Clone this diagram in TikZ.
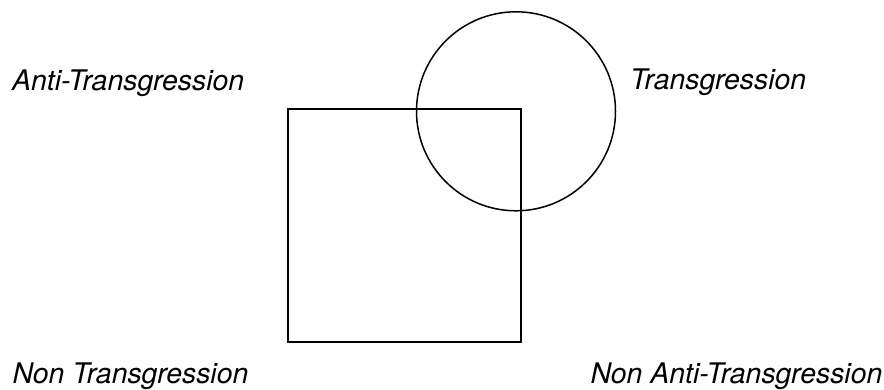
\documentclass[tikz,border=0pt]{standalone}
\usepackage{fontspec}
\setmainfont{TeX Gyre Heros}
\begin{document}
\begin{tikzpicture}[x=1pt,y=-1pt,
  shape line/.style={draw=black, line width=1.5pt, inner sep=0pt, outer sep=0pt},
  label text/.style={anchor=base west, inner sep=0pt, font=\fontsize{28.4}{30}\selectfont\itshape}]
\useasboundingbox (0,0) rectangle (884,390);
\node[shape line, rectangle, minimum width=233pt, minimum height=233pt] (sq) at (404.5,225.5) {};
\node[shape line, circle, minimum size=199pt] (ci) at (516,111.3) {};
\node[label text] (anti) at (12,90.5) {Anti-Transgression};
\node[label text] (trans) at (630,89.5) {Transgression};
\node[label text] (nontrans) at (12.5,383.3) {Non Transgression};
\node[label text] (nonanti) at (590.5,383.3) {Non Anti-Transgression};
\end{tikzpicture}
\end{document}
